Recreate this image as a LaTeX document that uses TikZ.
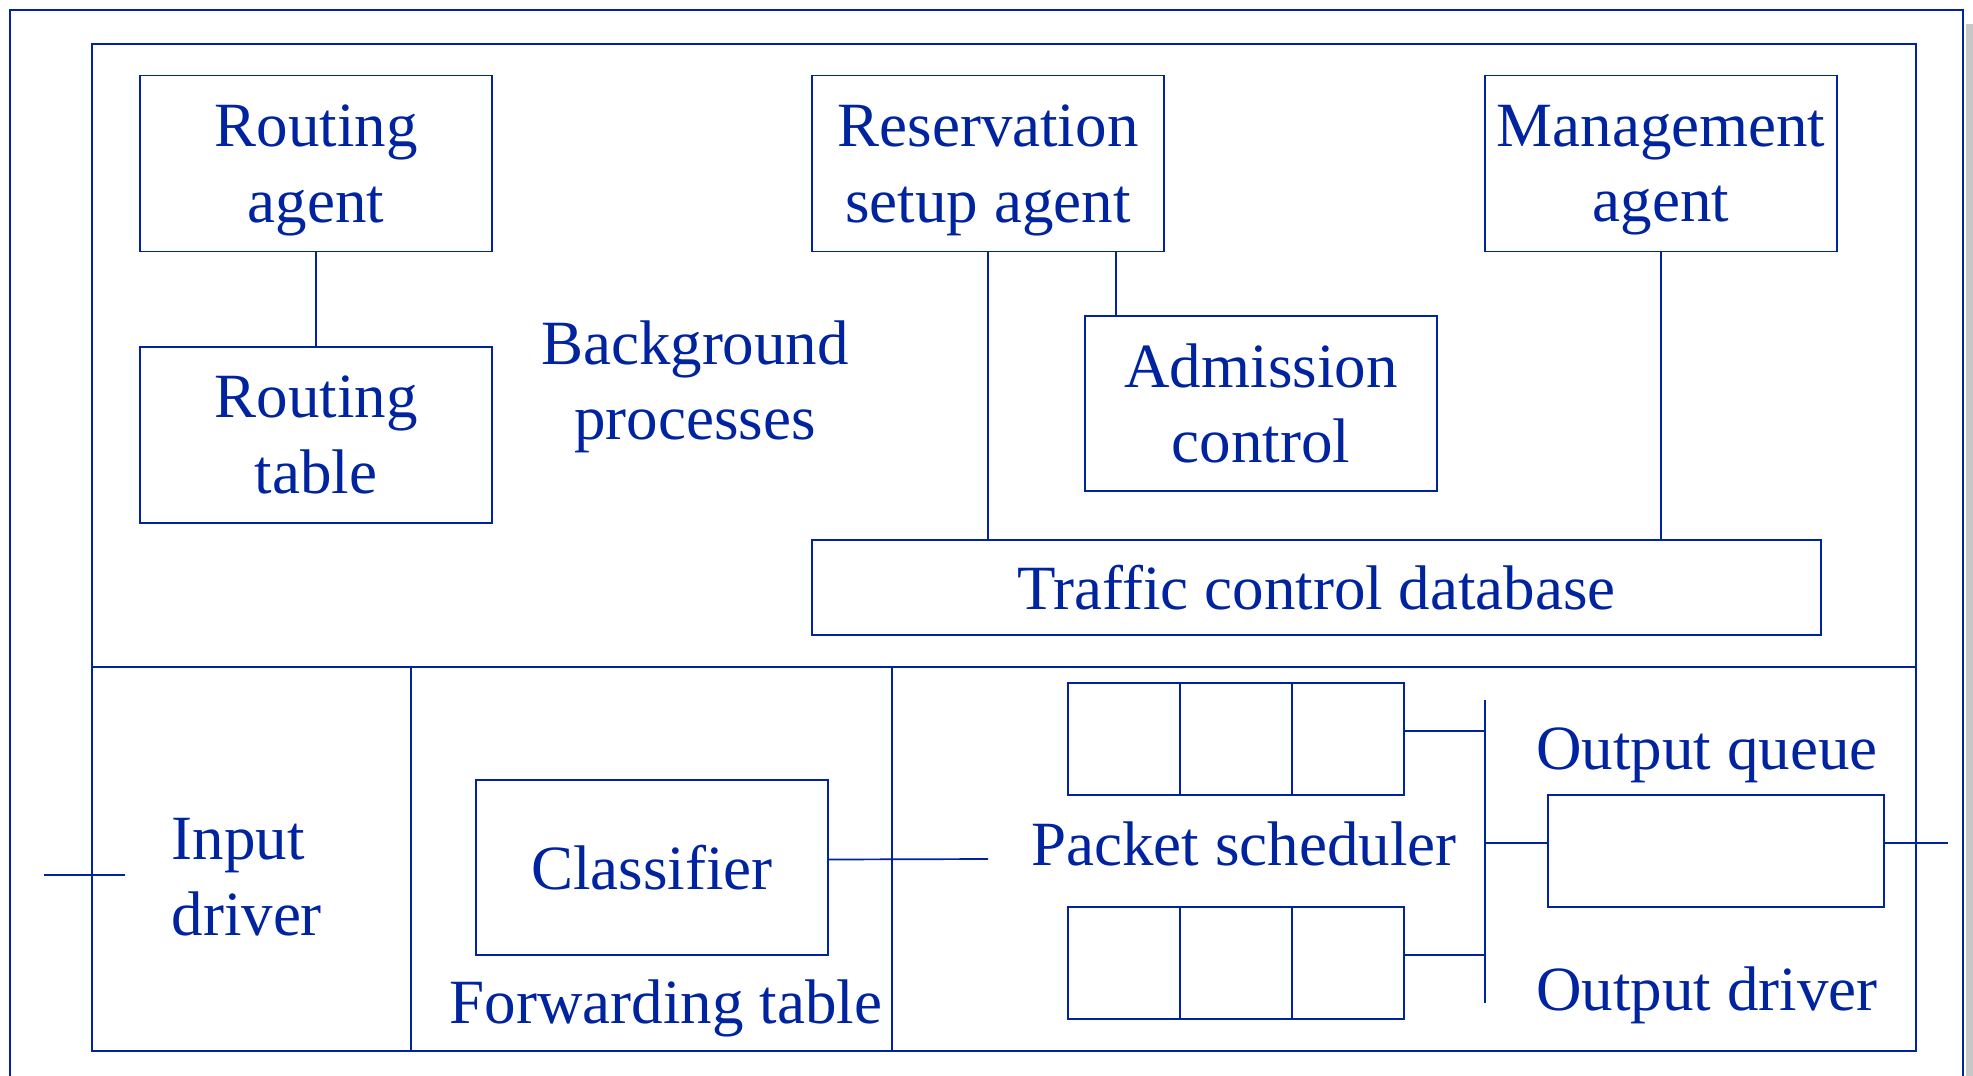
\documentclass[tikz,border=0pt]{standalone}
\usepackage{fontspec}
\setmainfont{Liberation Serif}
\usepackage{xcolor}
\usepackage{tikz}
\usetikzlibrary{calc}
\usetikzlibrary{positioning}
\definecolor{slideblue}{RGB}{0,35,160}

\begin{document}
\begin{tikzpicture}[x=1pt,y=-1pt,
	every node/.style={text=slideblue,align=center,font=\fontsize{63}{75.5}\selectfont},
	blk/.style={draw=slideblue,line width=1.8pt,minimum width=352pt,minimum height=176pt,inner sep=0pt},
	cell/.style={draw=slideblue,line width=1.8pt,minimum width=112pt,minimum height=112pt,inner sep=0pt},
	wire/.style={draw=slideblue,line width=1.7pt}]
	\fill[white] (0,0) rectangle (1973,1076);
	\useasboundingbox (0,0) rectangle (1973,1076);
	\fill[black!22] (1966,24) rectangle (1973,1076);
	% frames
	\draw[wire] (10,1090) -- (10,10) -- (1963,10) -- (1963,1090);
	\draw[wire] (92,44) rectangle (1916,1051);
	\draw[wire] (92,667) -- (1916,667);
	\draw[wire] (411,667) -- (411,1051);
	\draw[wire] (892,667) -- (892,1051);
	% background processes
	\node[blk] (ragent) at (316,163.5) {Routing\\\smash{agent}};
	\node[blk] (rtable) at (316,435) {Routing\\table};
	\node (bgproc) at (695,387) {Background\\processes};
	\node[blk] (resv) at (988,163.5) {Reservation\\\smash{setup agent}};
	\node[blk] (mgmt) at (1661,163.5) {Management\\\smash{agent}};
	\node[blk,minimum height=175pt] (admit) at (1261,403.5) {Admission\\control};
	\node[blk,minimum width=1009pt,minimum height=95pt] (tcdb) at (1316.5,587.5) {Traffic control database};
	\draw[wire] (ragent.south) -- (rtable.north);
	\draw[wire] (resv.south) -- (resv.south |- tcdb.north);
	\draw[wire] ([xshift=128pt]resv.south) -- ([xshift=128pt]resv.south |- admit.north);
	\draw[wire] (mgmt.south) -- (mgmt.south |- tcdb.north);
	% forwarding path
	\coordinate (inL) at (44,875);
	\coordinate (inR) at (125,875);
	\node[anchor=west,align=left] (indrv) at (168,877) {Input\\driver};
	\node[blk,minimum height=175pt] (clf) at (652,867.5) {Classifier};
	\node (fwd) at (666,1008) {Forwarding table};
	\coordinate (clfend) at (988,859);
	\node (sched) at (1244,844) {Packet scheduler};
	\foreach \i/\x in {1/1124,2/1236,3/1348}{
		\node[cell] (qa\i) at (\x,739) {};
		\node[cell] (qb\i) at (\x,963) {};
	}
	\coordinate (bartop) at (1485,700);
	\coordinate (barbot) at (1485,1003);
	\node[cell,minimum width=336pt] (outq) at (1716,851) {};
	\coordinate (outend) at (1948,843);
	\node (oqlbl) at (1707,755) {Output queue};
	\node (odlbl) at (1707,995) {Output driver};
	\draw[wire] (inL) -- (inR);
	\draw[wire] ([yshift=8pt]clf.east) -- (clfend);
	\draw[wire] (bartop) -- (barbot);
	\draw[wire] ([yshift=8pt]qa3.east) -- ([yshift=8pt]qa3.east -| bartop);
	\draw[wire] ([yshift=8pt]qb3.east) -- ([yshift=8pt]qb3.east -| bartop);
	\draw[wire] ([yshift=8pt]outq.west) -- ([yshift=8pt]outq.west -| bartop);
	\draw[wire] ([yshift=8pt]outq.east) -- (outend);
\end{tikzpicture}
\end{document}
